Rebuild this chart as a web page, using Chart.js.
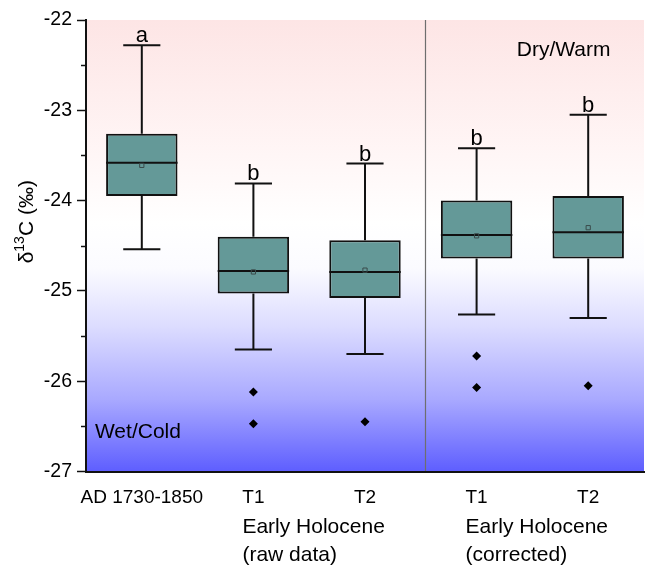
<!DOCTYPE html>
<html>
<head>
<meta charset="utf-8">
<script src="https://cdn.jsdelivr.net/npm/chart.js@4.4.0/dist/chart.umd.min.js"></script>
<style>
    html, body { margin: 0; padding: 0; background: #fff; }
    #wrap { width: 649px; height: 565px; position: relative; }
</style>
</head>
<body>
<div id="wrap"><canvas id="boxChart"></canvas></div>
<script>
// categories and box statistics (delta 13C, per mil)
const categories = ['AD 1730-1850', 'T1', 'T2', 'T1', 'T2'];
const groupLabels = [['Early Holocene', '(raw data)'], ['Early Holocene', '(corrected)']];
const whiskerHigh = [-22.28, -23.81, -23.59, -23.42, -23.05];
const q3 = [-23.26, -24.40, -24.44, -24.00, -23.95];
const median = [-23.58, -24.78, -24.79, -24.38, -24.35];
const mean = [-23.61, -24.79, -24.77, -24.39, -24.30];
const q1 = [-23.95, -25.03, -25.08, -24.64, -24.64];
const whiskerLow = [-24.54, -25.65, -25.70, -25.26, -25.30];
const outliers = [[], [-26.12, -26.47], [-26.45], [-25.72, -26.07], [-26.05]];
const letters = ['a', 'b', 'b', 'b', 'b'];
const yTicks = [-27, -26, -25, -24, -23, -22];

const FONT = "'Liberation Sans', Arial, sans-serif";

// one dataset per outlier rank, aligned with the categories
const maxOut = Math.max(...outliers.map(o => o.length));
const outlierSets = [];
for (let k = 0; k < maxOut; k++) {
    outlierSets.push(outliers.map(o => (o[k] === undefined ? null : o[k])));
}

const backdropPlugin = {
    id: 'backdrop',
    beforeDraw(chart) {
        const { ctx, chartArea: a, scales } = chart;
        const g = ctx.createLinearGradient(0, a.top, 0, a.bottom);
        g.addColorStop(0, '#fde5e5');
        g.addColorStop(0.3, '#fff6f6');
        g.addColorStop(0.45, '#ffffff');
        g.addColorStop(0.55, '#fbfbff');
        g.addColorStop(0.68, '#dcdcff');
        g.addColorStop(0.84, '#a9a9ff');
        g.addColorStop(1, '#5e5eff');
        ctx.save();
        ctx.fillStyle = g;
        ctx.fillRect(a.left, a.top, a.right - a.left, a.bottom - a.top);
        // separator between raw and corrected groups
        const sx = Math.round(scales.x.getPixelForValue(2.54)) + 0.5;
        ctx.strokeStyle = '#6e6e6e';
        ctx.lineWidth = 1.2;
        ctx.beginPath();
        ctx.moveTo(sx, a.top);
        ctx.lineTo(sx, a.bottom);
        ctx.stroke();
        ctx.restore();
    }
};

const boxPlugin = {
    id: 'boxParts',
    afterDatasetDraw(chart, args) {
        if (args.index !== 0) return;
        const { ctx, scales } = chart;
        const x = scales.x, y = scales.y;
        const meta = chart.getDatasetMeta(0);
        ctx.save();
        ctx.strokeStyle = '#111';
        ctx.lineWidth = 2;
        categories.forEach((c, i) => {
            const bar = meta.data[i];
            const cx = x.getPixelForValue(i);
            const half = bar.width / 2;
            const cap = half * 0.52;
            ctx.beginPath();
            ctx.moveTo(cx, y.getPixelForValue(q3[i]));
            ctx.lineTo(cx, y.getPixelForValue(whiskerHigh[i]));
            ctx.moveTo(cx, y.getPixelForValue(q1[i]));
            ctx.lineTo(cx, y.getPixelForValue(whiskerLow[i]));
            ctx.moveTo(cx - cap, y.getPixelForValue(whiskerHigh[i]));
            ctx.lineTo(cx + cap, y.getPixelForValue(whiskerHigh[i]));
            ctx.moveTo(cx - cap, y.getPixelForValue(whiskerLow[i]));
            ctx.lineTo(cx + cap, y.getPixelForValue(whiskerLow[i]));
            ctx.moveTo(cx - half, y.getPixelForValue(median[i]));
            ctx.lineTo(cx + half, y.getPixelForValue(median[i]));
            ctx.stroke();
        });
        ctx.restore();
    },
    afterDraw(chart) {
        const { ctx, chartArea: a, scales } = chart;
        const x = scales.x, y = scales.y;
        ctx.save();
        // minor ticks on y axis
        ctx.strokeStyle = '#111';
        ctx.lineWidth = 1.5;
        for (let v = -26.5; v < -22; v += 1) {
            const py = Math.round(y.getPixelForValue(v)) + 0.5;
            ctx.beginPath();
            ctx.moveTo(a.left - 5, py);
            ctx.lineTo(a.left, py);
            ctx.stroke();
        }
        ctx.fillStyle = '#000';
        // significance letters
        ctx.font = '22px ' + FONT;
        ctx.textAlign = 'center';
        ctx.textBaseline = 'alphabetic';
        letters.forEach((l, i) => {
            ctx.fillText(l, x.getPixelForValue(i), y.getPixelForValue(whiskerHigh[i]) - 3);
        });
        // climate annotations
        ctx.font = '21px ' + FONT;
        ctx.textBaseline = 'middle';
        ctx.fillText('Dry/Warm', x.getPixelForValue(3.78), y.getPixelForValue(-22.33));
        ctx.textAlign = 'left';
        ctx.fillText('Wet/Cold', x.getPixelForValue(-0.42), y.getPixelForValue(-26.57));
        // group labels under the T1/T2 ticks
        groupLabels.forEach((lines, g) => {
            const lx = x.getPixelForValue(1 + g * 2) - 11;
            lines.forEach((t, k) => ctx.fillText(t, lx, 527 + k * 28));
        });
        // y axis title with superscript
        ctx.translate(27, (a.top + a.bottom) / 2 - 24);
        ctx.rotate(-Math.PI / 2);
        ctx.textBaseline = 'middle';
        const parts = [['\u03b4', 21, 0], ['13', 14, -7], ['C (\u2030)', 21, 0]];
        let total = 0;
        parts.forEach(p => { ctx.font = p[1] + 'px ' + FONT; total += ctx.measureText(p[0]).width; });
        let px = -total / 2;
        parts.forEach(p => {
            ctx.font = p[1] + 'px ' + FONT;
            ctx.fillText(p[0], px, p[2]);
            px += ctx.measureText(p[0]).width;
        });
        ctx.restore();
    }
};

function createBoxChart() {
    const ctx = document.getElementById('boxChart').getContext('2d');
    const datasets = [{
        label: 'IQR',
        data: q1.map((v, i) => [v, q3[i]]),
        backgroundColor: '#649998',
        borderColor: '#111',
        borderWidth: 2,
        borderSkipped: false,
        barPercentage: 0.64,
        categoryPercentage: 1,
        order: 3
    }, {
        type: 'line',
        label: 'Mean',
        data: mean,
        showLine: false,
        pointStyle: 'rect',
        pointRadius: 3,
        borderColor: '#3a4a4a',
        borderWidth: 1,
        backgroundColor: 'rgba(0,0,0,0)',
        order: 1
    }];
    outlierSets.forEach((d, k) => datasets.push({
        type: 'line',
        label: 'Outliers ' + (k + 1),
        data: d,
        showLine: false,
        pointStyle: 'rectRot',
        pointRadius: 4.5,
        borderWidth: 0,
        backgroundColor: '#000',
        order: 1
    }));

    new Chart(ctx, {
        type: 'bar',
        data: { labels: categories, datasets: datasets },
        options: {
            responsive: true,
            maintainAspectRatio: false,
            animation: false,
            layout: { padding: { top: 20, right: 0, left: 0, bottom: 0 } },
            plugins: {
                legend: { display: false },
                tooltip: { enabled: false }
            },
            scales: {
                x: {
                    offset: true,
                    grid: { display: false, drawOnChartArea: false, drawTicks: true, tickLength: 7, tickColor: '#111', tickWidth: 1.5 },
                    border: { display: true, color: '#111', width: 2 },
                    ticks: { color: '#000', font: { family: FONT, size: 19 }, padding: 8, maxRotation: 0, autoSkip: false },
                    afterFit(scale) { scale.height = 93.5; }
                },
                y: {
                    min: yTicks[0],
                    max: yTicks[yTicks.length - 1],
                    afterBuildTicks(scale) { scale.ticks = yTicks.map(v => ({ value: v })); },
                    grid: { display: true, drawOnChartArea: false, tickLength: 9, tickColor: '#111', tickWidth: 1.5 },
                    border: { display: true, color: '#111', width: 2 },
                    ticks: { color: '#000', font: { family: FONT, size: 19.5 }, padding: 5 },
                    afterFit(scale) { scale.width = 86; }
                }
            }
        },
        plugins: [backdropPlugin, boxPlugin]
    });
}

document.addEventListener('DOMContentLoaded', createBoxChart);
</script>
</body>
</html>
